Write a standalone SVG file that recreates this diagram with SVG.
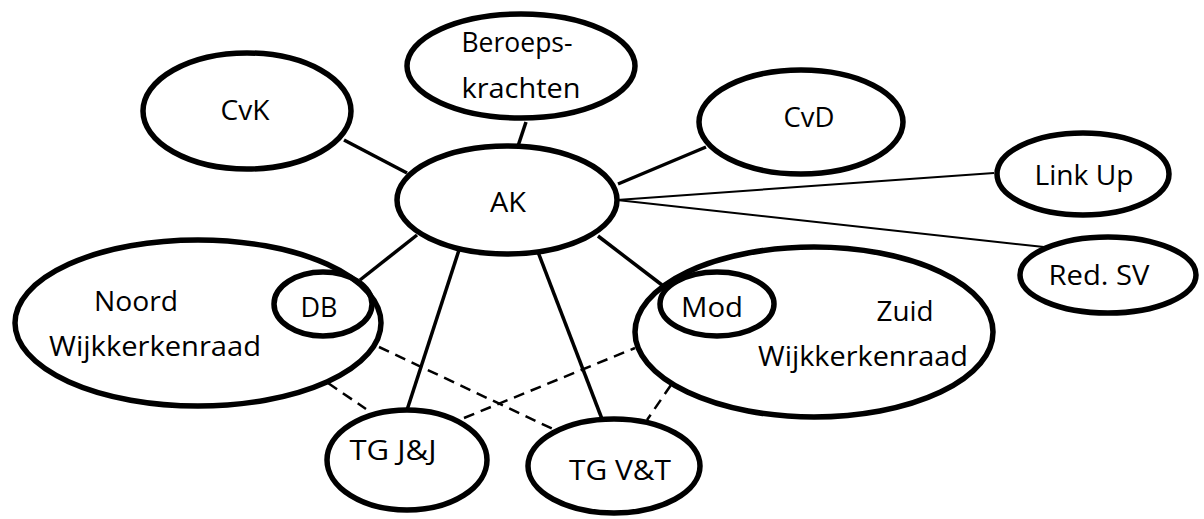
<svg xmlns="http://www.w3.org/2000/svg" width="1204" height="519" viewBox="0 0 1204 519">
<style>
.n{fill:#fff;stroke:#000;stroke-width:5.5}
.in{fill:none;stroke:#000;stroke-width:5.5}
.c{stroke:#000;stroke-width:3.5;fill:none}
.t{stroke:#000;stroke-width:2;fill:none}
.d{stroke:#000;stroke-width:2.5;stroke-dasharray:11 7;fill:none}
text{font-family:"Open Sans","Noto Sans","Liberation Sans",sans-serif;font-size:28px;fill:#000}
</style>
<rect width="1204" height="519" fill="#fff"/>
<g id="connectors">
<line class="c" x1="344" y1="140" x2="407" y2="173"/>
<line class="c" x1="526" y1="122" x2="518" y2="146"/>
<line class="c" x1="706" y1="147" x2="618" y2="184"/>
<line class="t" x1="617" y1="200" x2="994" y2="173"/>
<line class="t" x1="617" y1="200" x2="1044" y2="247"/>
<line class="c" x1="417" y1="235" x2="360" y2="280"/>
<line class="c" x1="459" y1="250" x2="407" y2="410"/>
<line class="c" x1="538" y1="252" x2="602" y2="419"/>
<line class="c" x1="598" y1="236" x2="662" y2="285"/>
<line class="d" x1="328" y1="383" x2="366" y2="409"/>
<line class="d" x1="379" y1="347" x2="555" y2="430"/>
<line class="d" x1="464" y1="418" x2="635" y2="348"/>
<line class="d" x1="671" y1="385" x2="647" y2="420"/>
</g>
<g id="CvK"><ellipse class="n" cx="247" cy="111" rx="104" ry="58"/><text x="245" y="120" text-anchor="middle" textLength="49" lengthAdjust="spacingAndGlyphs">CvK</text></g>
<g id="Beroepskrachten"><ellipse class="n" cx="521" cy="66" rx="114" ry="52"/><text x="517" y="52" text-anchor="middle" textLength="111" lengthAdjust="spacingAndGlyphs">Beroeps-</text><text x="521" y="98" text-anchor="middle" textLength="119" lengthAdjust="spacingAndGlyphs">krachten</text></g>
<g id="AK"><ellipse class="n" cx="507" cy="200" rx="110" ry="54"/><text x="508" y="212" text-anchor="middle" textLength="36" lengthAdjust="spacingAndGlyphs">AK</text></g>
<g id="CvD"><ellipse class="n" cx="801" cy="122" rx="102" ry="52"/><text x="809" y="127" text-anchor="middle" textLength="51" lengthAdjust="spacingAndGlyphs">CvD</text></g>
<g id="LinkUp"><ellipse class="n" cx="1083" cy="174" rx="86" ry="41"/><text x="1084" y="185" text-anchor="middle" textLength="99" lengthAdjust="spacingAndGlyphs">Link Up</text></g>
<g id="RedSV"><ellipse class="n" cx="1108" cy="275" rx="88" ry="38"/><text x="1099" y="285" text-anchor="middle" textLength="101" lengthAdjust="spacingAndGlyphs">Red. SV</text></g>
<g id="Noord"><ellipse class="n" cx="198" cy="323" rx="183" ry="83"/><text x="136" y="311" text-anchor="middle" textLength="84" lengthAdjust="spacingAndGlyphs">Noord</text><text x="155" y="356" text-anchor="middle" textLength="212" lengthAdjust="spacingAndGlyphs">Wijkkerkenraad</text></g>
<g id="DB"><ellipse class="in" cx="323" cy="304" rx="49" ry="32"/><text x="319" y="317" text-anchor="middle" textLength="37" lengthAdjust="spacingAndGlyphs">DB</text></g>
<g id="Zuid"><ellipse class="n" cx="814" cy="332" rx="179" ry="85"/><text x="905" y="321" text-anchor="middle" textLength="57" lengthAdjust="spacingAndGlyphs">Zuid</text><text x="863" y="366" text-anchor="middle" textLength="210" lengthAdjust="spacingAndGlyphs">Wijkkerkenraad</text></g>
<g id="Mod"><ellipse class="in" cx="717" cy="304" rx="57" ry="32"/><text x="712" y="317" text-anchor="middle" textLength="62" lengthAdjust="spacingAndGlyphs">Mod</text></g>
<g id="TGJJ"><ellipse class="n" cx="407" cy="460" rx="80" ry="50"/><text x="393" y="460" text-anchor="middle" textLength="87" lengthAdjust="spacingAndGlyphs">TG J&amp;J</text></g>
<g id="TGVT"><ellipse class="n" cx="614" cy="466" rx="86" ry="47"/><text x="620" y="480" text-anchor="middle" textLength="102" lengthAdjust="spacingAndGlyphs">TG V&amp;T</text></g>
</svg>
